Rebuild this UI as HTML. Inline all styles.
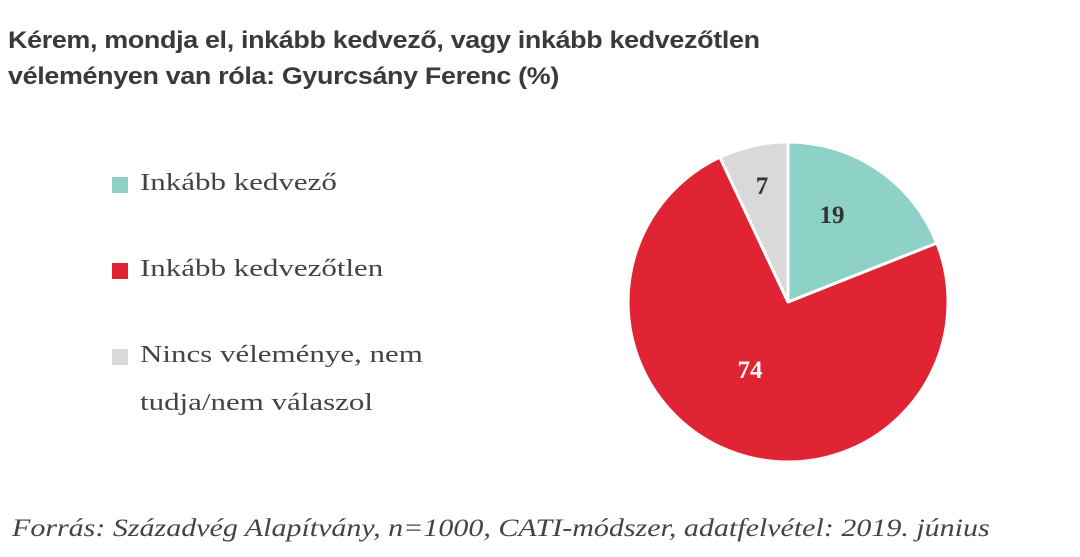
<!DOCTYPE html>
<html><head><meta charset="utf-8"><style>
html,body{margin:0;padding:0;background:#fff;}
body{width:1080px;height:557px;position:relative;overflow:hidden;}
.t{position:absolute;left:8px;font-family:"Liberation Sans",sans-serif;font-weight:bold;font-size:24px;color:#3a3a3a;white-space:nowrap;letter-spacing:-0.3px;transform-origin:0 0;transform:scaleX(1.12);}
.l{position:absolute;left:140px;font-family:"Liberation Serif",serif;font-size:24px;color:#444;white-space:nowrap;transform-origin:0 0;transform:scaleX(1.29);}
.sq{position:absolute;left:112px;width:16px;height:16px;}
.f{position:absolute;left:12px;top:515px;font-family:"Liberation Serif",serif;font-style:italic;font-size:25px;color:#444;white-space:nowrap;transform-origin:0 0;transform:scaleX(1.2);}
</style></head><body>
<div class="t" style="top:27px">Kérem, mondja el, inkább kedvező, vagy inkább kedvezőtlen</div>
<div class="t" style="top:63px">véleményen van róla: Gyurcsány Ferenc (%)</div>
<div class="sq" style="top:177px;background:#8ed1c6"></div>
<div class="l" style="top:170px">Inkább kedvező</div>
<div class="sq" style="top:263px;background:#e02434"></div>
<div class="l" style="top:256px">Inkább kedvezőtlen</div>
<div class="sq" style="top:349px;background:#d9d9d9"></div>
<div class="l" style="top:342px">Nincs véleménye, nem</div>
<div class="l" style="top:390px">tudja/nem válaszol</div>
<svg style="position:absolute;left:0;top:0" width="1080" height="557">
<g stroke="#fff" stroke-width="3" stroke-linejoin="round">
<path d="M788,302 L788,142 A160,160 0 0 1 936.8,243.1 Z" fill="#8ed1c6"/>
<path d="M788,302 L936.8,243.1 A160,160 0 1 1 719.9,157.2 Z" fill="#e02434"/>
<path d="M788,302 L719.9,157.2 A160,160 0 0 1 788,142 Z" fill="#d9d9d9"/>
</g>
<g font-family="Liberation Serif,serif" font-weight="bold" font-size="25" text-anchor="middle">
<text x="832" y="223" fill="#333">19</text>
<text x="750" y="378" fill="#fff">74</text>
<text x="762" y="194" fill="#333">7</text>
</g>
</svg>
<div class="f">Forrás: Századvég Alapítvány, n=1000, CATI-módszer, adatfelvétel: 2019. június</div>
</body></html>
